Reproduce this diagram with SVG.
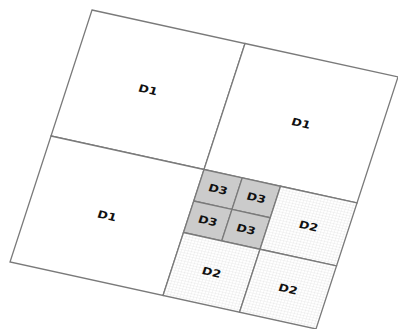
<svg xmlns="http://www.w3.org/2000/svg" width="398" height="329" viewBox="0 0 398 329">
<defs>
<pattern id="grid" patternUnits="userSpaceOnUse" x="0" y="0" width="3.125" height="3.125">
<rect width="3.125" height="3.125" fill="#ffffff"/>
<path d="M0 0H3.125M0 0V3.125" stroke="#d4d4d4" stroke-width="0.5" fill="none"/>
</pattern>
</defs>
<style>
.cell{stroke:#7a7a7a;stroke-width:1.3;fill:#ffffff;vector-effect:non-scaling-stroke}
.d2{fill:url(#grid)}
.d3{fill:#cbcbcb}
.lbl{font-family:"DejaVu Sans",Verdana,sans-serif;font-weight:bold;font-size:12px;fill:#111111;text-anchor:middle;dominant-baseline:central}
</style>
<rect width="398" height="329" fill="#ffffff"/>
<g transform="matrix(1.02,0.2233,-0.2733,0.84,92,10)">
<g id="d1-tl"><rect class="cell" x="0" y="0" width="150" height="150"/><text class="lbl" x="75" y="75">D1</text></g>
<g id="d1-tr"><rect class="cell" x="150" y="0" width="150" height="150"/><text class="lbl" x="225" y="75">D1</text></g>
<g id="d1-bl"><rect class="cell" x="0" y="150" width="150" height="150"/><text class="lbl" x="75" y="225">D1</text></g>
<g id="d3-a"><rect class="cell d3" x="150" y="150" width="37.5" height="37.5"/><text class="lbl" x="168.75" y="168.75">D3</text></g>
<g id="d3-b"><rect class="cell d3" x="187.5" y="150" width="37.5" height="37.5"/><text class="lbl" x="206.25" y="168.75">D3</text></g>
<g id="d3-c"><rect class="cell d3" x="150" y="187.5" width="37.5" height="37.5"/><text class="lbl" x="168.75" y="206.25">D3</text></g>
<g id="d3-d"><rect class="cell d3" x="187.5" y="187.5" width="37.5" height="37.5"/><text class="lbl" x="206.25" y="206.25">D3</text></g>
<g id="d2-tr"><rect class="cell d2" x="225" y="150" width="75" height="75"/><text class="lbl" x="262.5" y="187.5">D2</text></g>
<g id="d2-bl"><rect class="cell d2" x="150" y="225" width="75" height="75"/><text class="lbl" x="187.5" y="262.5">D2</text></g>
<g id="d2-br"><rect class="cell d2" x="225" y="225" width="75" height="75"/><text class="lbl" x="262.5" y="262.5">D2</text></g>
</g>
<g id="connectors"/>
</svg>
